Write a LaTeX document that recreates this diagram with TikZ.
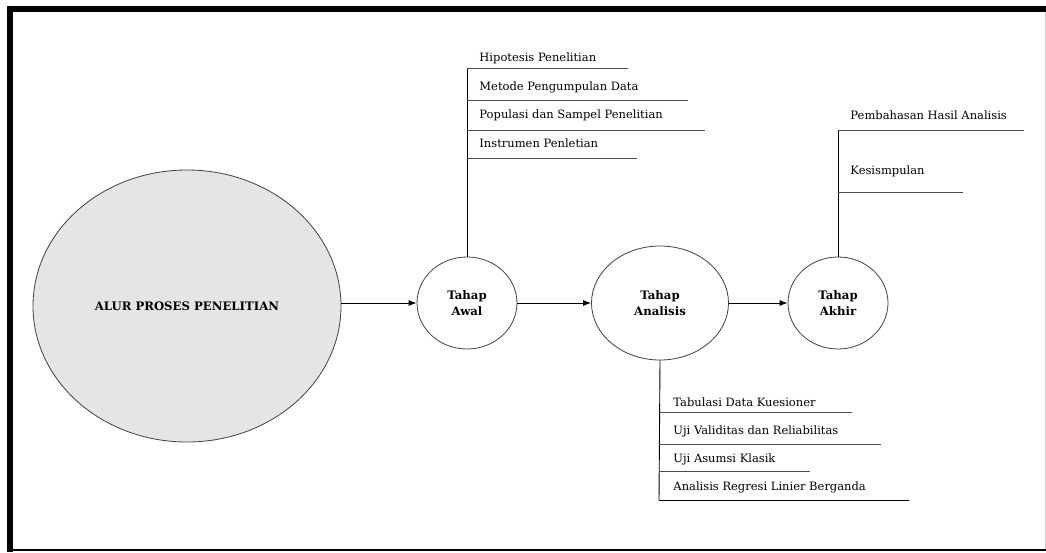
\documentclass[tikz,border=0pt]{standalone}
\usepackage{fontspec}
\setmainfont{DejaVu Serif}
\usetikzlibrary{arrows,arrows.meta,shapes.geometric,positioning,calc}

\begin{document}
\begin{tikzpicture}
[x=1pt,y=-1pt%
,line width=0.9pt%
,stage/.style={ellipse,%
               draw=black!75,%
               line width=0.8pt,%
               minimum width=100pt,%
               minimum height=92pt,%
               inner sep=0pt,%
               align=center,%
               font=\fontsize{11.7}{16.5}\selectfont\bfseries}%
,item/.style={anchor=west,%
              inner sep=0pt,%
              font=\fontsize{11.5}{13}\selectfont}%
,uline/.style={draw=black!70}%
,link/.style={-{Latex[length=8pt,width=6pt]},draw=black}]
% frame
\useasboundingbox (0,0) rectangle (1046,552);
\fill[black] (7,6) rectangle (1046,12);
\fill[black] (7,6) rectangle (13,552);
\draw[line width=1.5pt] (7,550) -- (1046,550);
\draw[black!20,line width=1pt] (1045,12) -- (1045,549);
% main nodes
\node[stage,fill=black!10,minimum width=308pt,minimum height=272pt] (alur) at (187,306) {ALUR PROSES PENELITIAN};
\node[stage] (awal) at (467,303) {Tahap\\Awal};
\node[stage,minimum width=137pt,minimum height=114pt] (analisis) at (660,303) {Tahap\\Analisis};
\node[stage] (akhir) at (838,303) {Tahap\\Akhir};
\draw[link] (alur.east |- awal) -- (awal);
\draw[link] (awal) -- (analisis);
\draw[link] (analisis) -- (akhir);
% tahap awal
\node[item] (hip) at (479,58) {Hipotesis Penelitian};
\node[item] (met) at (479,87) {Metode Pengumpulan Data};
\node[item] (pop) at (479,115) {Populasi dan Sampel Penelitian};
\node[item] (ins) at (479,143) {Instrumen Penletian};
\coordinate (awaltop) at (467,68);
\draw (awal) -- (awaltop);
\draw[uline] (awaltop) -- (628,68);
\draw[uline] (467,100) -- (688,100);
\draw[uline] (467,130) -- (705,130);
\draw[uline] (467,158) -- (637,158);
% tahap akhir
\node[item] (bhs) at (850,115) {Pembahasan Hasil Analisis};
\node[item] (kes) at (850,171) {Kesismpulan};
\coordinate (akhirtop) at (838,130);
\draw (akhir) -- (akhirtop);
\draw[uline] (akhirtop) -- (1024,130);
\draw[uline] (838,192) -- (963,192);
% tahap analisis
\node[item] (tab) at (673,402) {Tabulasi Data Kuesioner};
\node[item] (val) at (673,431) {Uji Validitas dan Reliabilitas};
\node[item] (asu) at (673,459) {Uji Asumsi Klasik};
\node[item] (reg) at (673,487) {Analisis Regresi Linier Berganda};
\coordinate (analisisbot) at (659,500);
\draw (analisis.south) -- (analisisbot);
\draw[uline] (659,412) -- (852,412);
\draw[uline] (659,444) -- (881,444);
\draw[uline] (659,471) -- (810,471);
\draw (analisisbot) -- (909,500);
\end{tikzpicture}
\end{document}
